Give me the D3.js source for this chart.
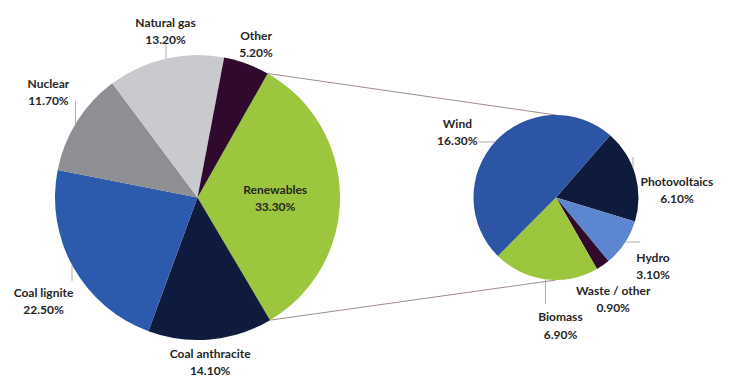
<!DOCTYPE html>
<html>
<head>
<meta charset="utf-8">
<script src="https://cdn.jsdelivr.net/npm/d3@7"></script>
<style>
  html, body { margin: 0; padding: 0; background: #ffffff; }
  svg { display: block; }
  text { font-family: Lato, "Open Sans", sans-serif; font-weight: 700; font-size: 12px; fill: #262626; }
</style>
</head>
<body>
<svg id="chart" width="739" height="377"></svg>
<script>
// Electricity generation mix (share of gross generation, %)
const mainCategories = ["Renewables", "Coal anthracite", "Coal lignite", "Nuclear", "Natural gas", "Other"];
const mainValues     = [33.3, 14.1, 22.5, 11.7, 13.2, 5.2];
const mainLabels     = ["33.30%", "14.10%", "22.50%", "11.70%", "13.20%", "5.20%"];

// Breakdown of the renewables slice
const subCategories = ["Photovoltaics", "Hydro", "Waste / other", "Biomass", "Wind"];
const subValues     = [6.1, 3.1, 0.9, 6.9, 16.3];
const subLabels     = ["6.10%", "3.10%", "0.90%", "6.90%", "16.30%"];

const mainColors = ["#9cc63d", "#0f1b3c", "#2c5aad", "#8e8f93", "#c9cacd", "#2f0a2c"];
const subColors  = ["#0f1b3c", "#5c86cf", "#2f0a2c", "#9cc63d", "#2c55a5"];

const svg = d3.select("#chart");
const deg = Math.PI / 180;

// geometry of the two pies
const main = { cx: 197.5, cy: 197.5, r: 142.5, start: 29.5 * deg };
const sub  = { cx: 556,   cy: 197.5, r: 82.5,  start: 41 * deg };

function polar(p, a, rad) {
  return [p.cx + Math.sin(a) * rad, p.cy - Math.cos(a) * rad];
}

function drawPie(p, values, colors) {
  const pie = d3.pie().sort(null).value(d => d)
    .startAngle(p.start).endAngle(p.start + 2 * Math.PI);
  const arcs = pie(values);
  const arc = d3.arc().innerRadius(0).outerRadius(p.r);
  const g = svg.append("g").attr("transform", `translate(${p.cx},${p.cy})`);
  g.selectAll("path").data(arcs).join("path")
    .attr("d", arc)
    .attr("fill", (d, i) => colors[i]);
  return arcs;
}

// connector lines from the renewables slice to the breakdown pie
const mainArcs0 = d3.pie().sort(null).value(d => d)
  .startAngle(main.start).endAngle(main.start + 2 * Math.PI)(mainValues);
const ren = mainArcs0[0];
const pTop = polar(main, ren.startAngle, main.r);
const pBot = polar(main, ren.endAngle, main.r);
svg.append("line")
  .attr("x1", pTop[0]).attr("y1", pTop[1])
  .attr("x2", sub.cx).attr("y2", sub.cy - sub.r)
  .attr("stroke", "#a08c88").attr("stroke-width", 1);
svg.append("line")
  .attr("x1", pBot[0]).attr("y1", pBot[1])
  .attr("x2", sub.cx).attr("y2", sub.cy + sub.r)
  .attr("stroke", "#a08c88").attr("stroke-width", 1);

const mainArcs = drawPie(main, mainValues, mainColors);
const subArcs  = drawPie(sub, subValues, subColors);

// label placement: radius factor and angular nudge from each slice's mid-angle
const mainLabelPos = [
  { k: 0.545, da: 0 },
  { k: 1.15,  da: 0.8 },
  { k: 1.30,  da: -4.4 },
  { k: 1.285, da: 3.3 },
  { k: 1.20,  da: 2.2 },
  { k: 1.16,  da: 0.6 }
];
const subLabelPos = [
  { k: 1.47, da: 12 },
  { k: 1.43, da: 1 },
  { k: 1.40, da: 5 },
  { k: 1.54, da: -9.5 },
  { k: 1.44, da: -9 }
];

function drawLabels(p, arcs, names, pcts, pos) {
  arcs.forEach((d, i) => {
    const mid = (d.startAngle + d.endAngle) / 2 + pos[i].da * deg;
    const [x, y] = polar(p, mid, p.r * pos[i].k);
    const t = svg.append("text").attr("text-anchor", "middle")
      .attr("x", x).attr("y", y);
    t.append("tspan").attr("x", x).attr("dy", "-0.25em").text(names[i]);
    t.append("tspan").attr("x", x).attr("dy", "1.42em").text(pcts[i]);
  });
}
drawLabels(main, mainArcs, mainCategories, mainLabels, mainLabelPos);
drawLabels(sub, subArcs, subCategories, subLabels, subLabelPos);

// thin leader lines from labels to the pie rim
const leaderColor = "#9a9a9a";
function vLeader(p, x, y0, side) {
  const dy = Math.sqrt(Math.max(0, p.r * p.r - (x - p.cx) * (x - p.cx)));
  const yEdge = p.cy + side * dy;
  svg.append("line").attr("x1", x).attr("y1", y0).attr("x2", x).attr("y2", yEdge)
    .attr("stroke", leaderColor).attr("stroke-width", 0.8);
}
function hLeader(p, y, x0, side) {
  const dx = Math.sqrt(Math.max(0, p.r * p.r - (y - p.cy) * (y - p.cy)));
  const xEdge = p.cx + side * dx;
  svg.append("line").attr("x1", x0).attr("y1", y).attr("x2", xEdge).attr("y2", y)
    .attr("stroke", leaderColor).attr("stroke-width", 0.8);
}
vLeader(main, 166, 44, -1);   // Natural gas
vLeader(main, 75.5, 101, -1); // Nuclear
vLeader(main, 72, 281, 1);    // Coal lignite
vLeader(sub, 545.5, 304, 1);  // Biomass
hLeader(sub, 142, 479, -1);   // Wind
hLeader(sub, 242, 640, 1);    // Hydro
vLeader(sub, 633, 157, -1);   // Photovoltaics
</script>
</body>
</html>
